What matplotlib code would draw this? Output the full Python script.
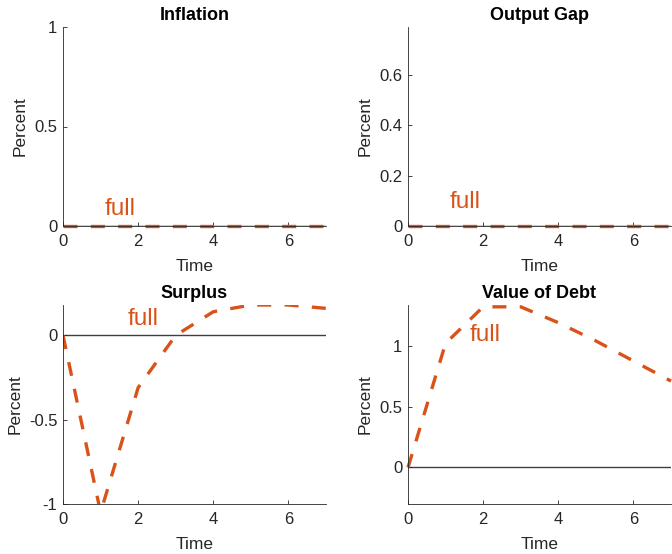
import matplotlib
matplotlib.use("Agg")
import matplotlib.pyplot as plt
from matplotlib.ticker import FuncFormatter

plt.rcParams['font.family'] = ['Liberation Sans', 'DejaVu Sans']
plt.rcParams['axes.unicode_minus'] = False

# impulse responses
time = [0, 1, 2, 3, 4, 5, 6, 7]
inflation = [0, 0, 0, 0, 0, 0, 0, 0]
output_gap = [0, 0, 0, 0, 0, 0, 0, 0]
surplus = [0, -1.05, -0.31, 0.0, 0.14, 0.18, 0.18, 0.16]
debt = [0, 1.02, 1.32, 1.32, 1.19, 1.04, 0.875, 0.71]

titles = ["Inflation", "Output Gap", "Surplus", "Value of Debt"]
series = [inflation, output_gap, surplus, debt]
ylims = [(0, 1), (0, 0.79), (-1, 0.18), (-0.3, 1.335)]
yticks = [[0, 0.5, 1], [0, 0.2, 0.4, 0.6], [-1, -0.5, 0], [0, 0.5, 1]]
xticks = [0, 2, 4, 6]
label_pos = [(1.12, 0.055), (1.12, 0.072), (1.73, 0.06), (1.63, 1.04)]

ORANGE = '#D95319'
AXC = '#262626'

fig = plt.figure(figsize=(6.72, 5.54), dpi=100)
W, H = 672, 554
boxes = [(63, 27), (408, 27), (63, 305), (408, 305)]  # left, top in px
aw, ah = 263, 199

fmt = FuncFormatter(lambda v, p: f"{v:g}")

for i in range(4):
    left, top = boxes[i]
    ax = fig.add_axes([left / W, 1 - (top + ah) / H, aw / W, ah / H])
    ax.set_xlim(0, 7)
    ax.set_ylim(*ylims[i])

    # zero reference line, then the "full" response
    ax.axhline(0, color='black' if i < 2 else '#404040', lw=1.0, zorder=1)
    ax.plot(time, series[i], color=ORANGE, lw=2.4, linestyle=(0, (4.2, 4.0)),
            clip_on=(i == 2), zorder=2)

    tx, ty = label_pos[i]
    ax.text(tx, ty, "full", color=ORANGE, fontsize=17.5, ha='left', va='baseline')

    for s in ['top', 'right']:
        ax.spines[s].set_visible(False)
    for s in ['left', 'bottom']:
        ax.spines[s].set_color(AXC)
        ax.spines[s].set_linewidth(0.6)

    ax.set_xticks(xticks)
    ax.set_yticks(yticks[i])
    ax.xaxis.set_major_formatter(fmt)
    ax.yaxis.set_major_formatter(fmt)
    ax.tick_params(direction='in', length=3, width=0.6, colors=AXC,
                   labelsize=12, labelcolor='#262626')
    ax.tick_params(axis='x', pad=6)
    ax.tick_params(axis='y', pad=4)

    ax.set_title(titles[i], fontsize=13, fontweight='bold', pad=5)
    ax.set_xlabel("Time", fontsize=12.5, color='#262626', labelpad=7)
    ax.set_ylabel("Percent", fontsize=12.5, color='#262626')
    ax.yaxis.set_label_coords(-0.155 if i == 2 else -0.135, 0.5)

fig.savefig("out.png", dpi=100)
